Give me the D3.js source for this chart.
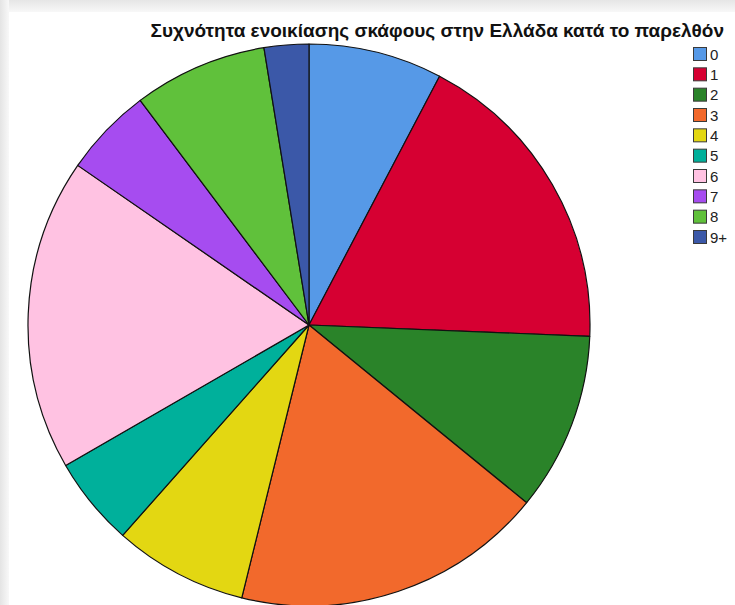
<!DOCTYPE html>
<html>
<head>
<meta charset="utf-8">
<script src="https://cdn.jsdelivr.net/npm/d3@7"></script>
<style>
  html, body { margin: 0; padding: 0; background: #ffffff; }
  svg { display: block; }
</style>
</head>
<body>
<svg id="chart" width="735" height="605"></svg>
<script>
// Rental frequency categories and respondent counts
const categories = ["0", "1", "2", "3", "4", "5", "6", "7", "8", "9+"];
const counts = [3, 7, 4, 7, 3, 2, 7, 2, 3, 1];
const colors = ["#5699e7", "#d60032", "#2a8329", "#f2692c", "#e3d712", "#00b09b",
                "#ffc2e2", "#a64cf0", "#60c13b", "#3b58a8"];
const title = "Συχνότητα ενοικίασης σκάφους στην Ελλάδα κατά το παρελθόν";

const svg = d3.select("#chart");
const W = 735, H = 605;

// Panel with a soft shadow on its top and left edges
const defs = svg.append("defs");
const gl = defs.append("linearGradient").attr("id", "shadeL").attr("x1", 0).attr("x2", 1).attr("y1", 0).attr("y2", 0);
gl.append("stop").attr("offset", 0).attr("stop-color", "#e4e4e4");
gl.append("stop").attr("offset", 1).attr("stop-color", "#f8f8f8");
const gt = defs.append("linearGradient").attr("id", "shadeT").attr("x1", 0).attr("x2", 0).attr("y1", 0).attr("y2", 1);
gt.append("stop").attr("offset", 0).attr("stop-color", "#e6e6e6");
gt.append("stop").attr("offset", 1).attr("stop-color", "#f8f8f8");
svg.append("rect").attr("x", 0).attr("y", 0).attr("width", W).attr("height", 12).attr("fill", "url(#shadeT)");
svg.append("rect").attr("x", 0).attr("y", 0).attr("width", 9).attr("height", H).attr("fill", "url(#shadeL)");
svg.append("rect").attr("x", 9).attr("y", 12).attr("width", W - 9).attr("height", H - 12).attr("fill", "#ffffff");

// Title
svg.append("text")
  .attr("x", 724).attr("y", 37)
  .attr("text-anchor", "end")
  .attr("font-family", "Liberation Sans, Arial, sans-serif")
  .attr("font-weight", "bold")
  .attr("font-size", 19)
  .attr("fill", "#111")
  .text(title);

// Pie
const cx = 309, cy = 325, r = 281;
const color = d3.scaleOrdinal().domain(categories).range(colors);
const pie = d3.pie().value(d => d.value).sort(null);
const arc = d3.arc().innerRadius(0).outerRadius(r);
const data = categories.map((c, i) => ({ key: c, value: counts[i] }));

svg.append("g")
  .attr("transform", `translate(${cx},${cy})`)
  .selectAll("path")
  .data(pie(data))
  .join("path")
  .attr("d", arc)
  .attr("fill", d => color(d.data.key))
  .attr("stroke", "#111")
  .attr("stroke-width", 1.2)
  .attr("stroke-linejoin", "round");

// Legend
const legend = svg.append("g").attr("transform", "translate(693,47)");
const y = d3.scalePoint().domain(categories).range([0, 183]);
const items = legend.selectAll("g").data(categories).join("g")
  .attr("transform", d => `translate(0,${y(d)})`);
items.append("rect")
  .attr("x", 0.5).attr("y", 0.5).attr("width", 13).attr("height", 13)
  .attr("fill", d => color(d))
  .attr("stroke", "#3a3a3a").attr("stroke-width", 1);
items.append("text")
  .attr("x", 17).attr("y", 12.5)
  .attr("font-family", "Liberation Sans, Arial, sans-serif")
  .attr("font-size", 15)
  .attr("fill", "#222")
  .text(d => d);
</script>
</body>
</html>
